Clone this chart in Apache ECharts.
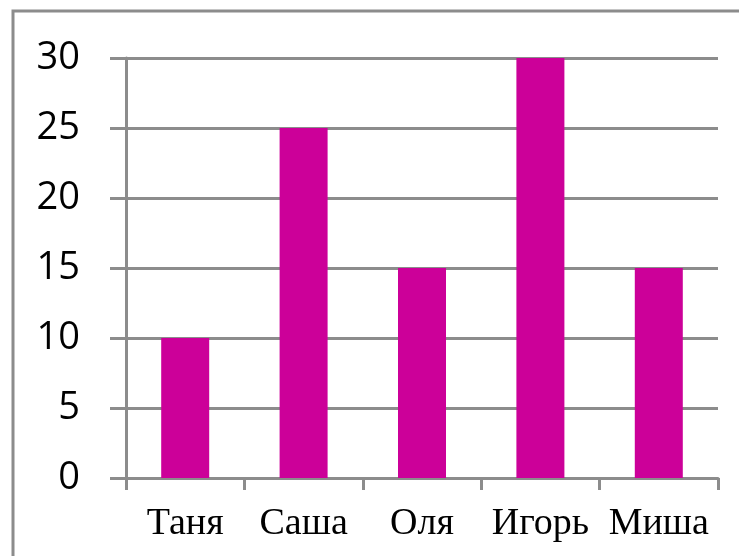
<!DOCTYPE html>
<html><head><meta charset="utf-8">
<script src="https://cdn.jsdelivr.net/npm/echarts@6/dist/echarts.min.js"></script>
<style>html,body{margin:0;padding:0;background:#fff}#c{width:739px;height:556px}</style>
</head><body><div id="c"></div>
<script>
const categories = ['Таня', 'Саша', 'Оля', 'Игорь', 'Миша'];
const values = [10, 25, 15, 30, 15];
const yTicks = [0, 5, 10, 15, 20, 25, 30];

const chart = echarts.init(document.getElementById('c'), null, {renderer: 'canvas'});
const gray = '#8c8c8c';
chart.setOption({
  animation: false,
  backgroundColor: '#fff',
  graphic: [{
    type: 'rect', shape: {x: 13, y: 11, width: 900, height: 700},
    style: {fill: 'none', stroke: gray, lineWidth: 3}, silent: true
  }],
  grid: {left: 126, right: 21, top: 58, bottom: 78, containLabel: false},
  xAxis: {
    type: 'category', data: categories, boundaryGap: true,
    axisLine: {show: true, lineStyle: {color: gray, width: 3}},
    axisTick: {show: true, length: 12, alignWithLabel: false, lineStyle: {color: gray, width: 3}},
    axisLabel: {margin: 27, color: '#000', fontFamily: 'Liberation Serif', fontSize: 38, interval: 0},
    splitLine: {show: false}
  },
  yAxis: {
    type: 'value', min: yTicks[0], max: yTicks[yTicks.length - 1], interval: 5,
    axisLine: {show: true, lineStyle: {color: gray, width: 3}},
    axisTick: {show: true, length: 16, lineStyle: {color: gray, width: 3}},
    axisLabel: {margin: 46, color: '#000', fontFamily: 'Open Sans', fontSize: 38},
    splitLine: {show: true, lineStyle: {color: gray, width: 3}}
  },
  series: [{
    type: 'bar', data: values, barWidth: 48,
    itemStyle: {color: '#CC0099'}
  }]
});
</script></body></html>
